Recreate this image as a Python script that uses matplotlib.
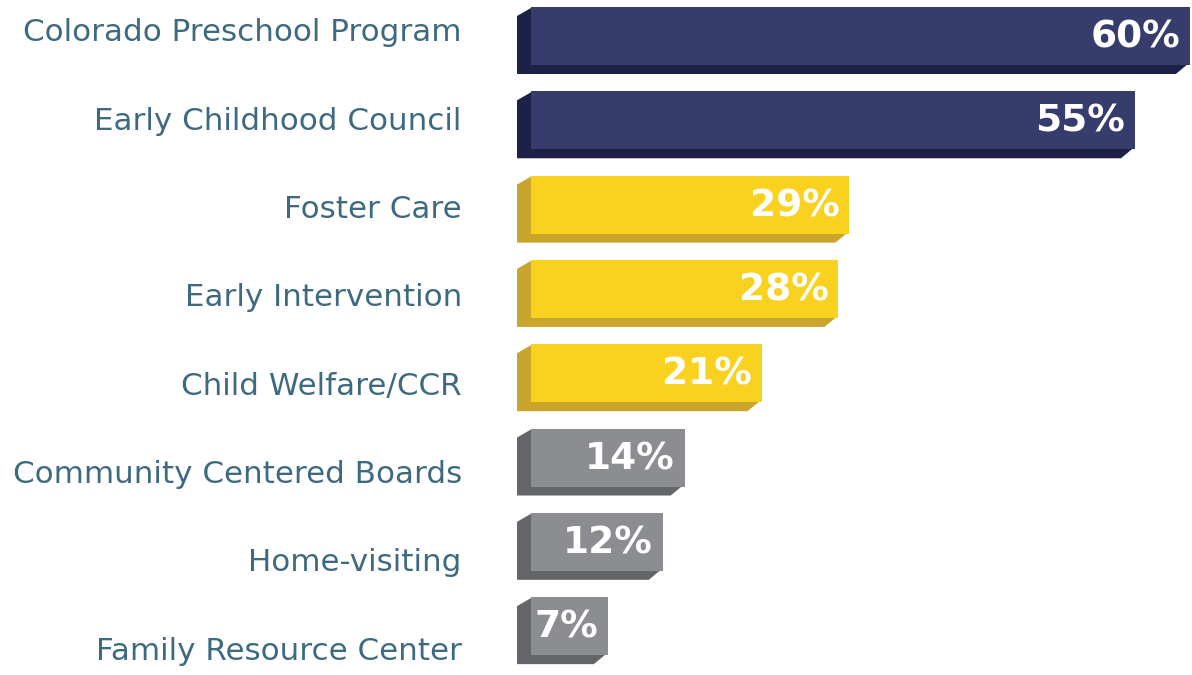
import matplotlib.pyplot as plt
from matplotlib.patches import Polygon

programs = ["Colorado Preschool Program", "Early Childhood Council", "Foster Care",
            "Early Intervention", "Child Welfare/CCR", "Community Centered Boards",
            "Home-visiting", "Family Resource Center"]
shares = [60, 55, 29, 28, 21, 14, 12, 7]

# front / shade colours per bar (navy, gold, grey groups)
front = ["#363c6b"] * 2 + ["#f9d11f"] * 3 + ["#8b8d90"] * 3
shade = ["#1d2047"] * 2 + ["#c9a62b"] * 3 + ["#646568"] * 3

fig = plt.figure(figsize=(11.92, 6.75), dpi=100)
ax = fig.add_axes([0, 0, 1, 1])
ax.set_xlim(-48.36, 60.2)
ax.set_ylim(7.58, -0.427)
ax.axis("off")

h = 0.688          # front face height (row units)
dx, dy = 1.275, 0.107  # depth of the extruded look
ov = 0.03          # overlap so no seam shows between faces

bars = ax.barh(range(len(shares)), shares, height=h, color=front, lw=0, zorder=3)
for b, sc in zip(bars, shade):
    x0, x1 = b.get_x(), b.get_x() + b.get_width()
    yt, yb = b.get_y(), b.get_y() + b.get_height()
    side = [(x0 - dx, yt + dy), (x0 + ov * 5, yt), (x0 + ov * 5, yb), (x0 - dx, yb + dy)]
    bottom = [(x0 - dx, yb + dy), (x0, yb - ov), (x1, yb - ov), (x1 - dx, yb + dy)]
    ax.add_patch(Polygon(side, closed=True, color=sc, lw=0, zorder=2))
    ax.add_patch(Polygon(bottom, closed=True, color=sc, lw=0, zorder=2))

for i, (name, v) in enumerate(zip(programs, shares)):
    ax.text(-6.3, -0.036 + i * 1.0475, name, ha="right", va="center",
            fontsize=22.3, color="#3e6a80", family="DejaVu Sans")
    ax.text(v - 0.9, i + 0.02, f"{v}%", ha="right", va="center",
            fontsize=27, fontweight="bold", color="white", zorder=4)

fig.savefig("out.png", dpi=100, facecolor="white")
